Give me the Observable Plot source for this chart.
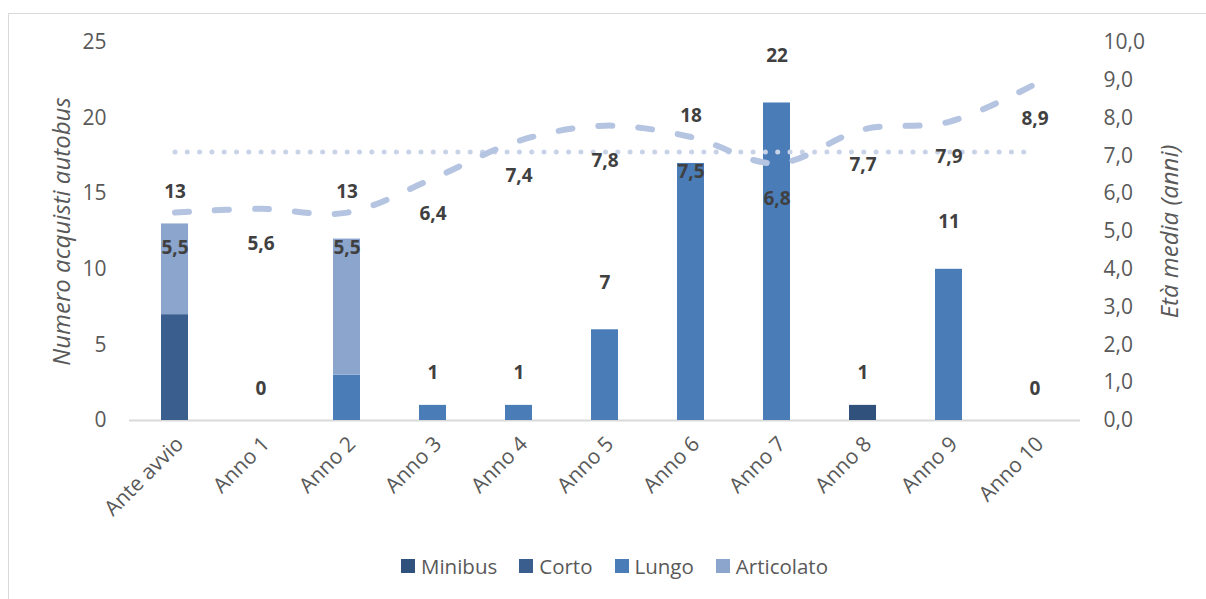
<!DOCTYPE html>
<html>
<head>
<meta charset="utf-8">
<script src="https://cdn.jsdelivr.net/npm/d3@7"></script>
<script src="https://cdn.jsdelivr.net/npm/@observablehq/plot@0.6"></script>
<style>
  body { margin: 0; background: #fff; font-family: "Open Sans", sans-serif; }
  #wrap { position: relative; width: 1206px; height: 599px; overflow: hidden; background: #fff; }
  #chart { position: absolute; left: 0; top: 0; }
  #frame { position: absolute; left: 8px; top: 13px; width: 1400px; height: 800px; border: 1px solid #d9d9d9; pointer-events: none; }
  #legend { position: absolute; top: 552px; left: 401px; display: flex; gap: 22px; align-items: center; font-size: 20.5px; color: #595959; }
  #legend .item { display: flex; align-items: center; gap: 6px; }
  #legend .sw { width: 14px; height: 14px; display: inline-block; }
</style>
</head>
<body>
<div id="wrap">
  <div id="chart"></div>
  <div id="legend"></div>
  <div id="frame"></div>
</div>
<script>
// ---- Data ----
const categorie = ["Ante avvio", "Anno 1", "Anno 2", "Anno 3", "Anno 4", "Anno 5", "Anno 6", "Anno 7", "Anno 8", "Anno 9", "Anno 10"];
const serie = ["Minibus", "Corto", "Lungo", "Articolato"];
const coloriSerie = ["#30517C", "#3A5F8E", "#4A7DB8", "#8BA5CD"];
const minibus    = [0, 0, 0, 0, 0, 0, 0, 0, 1, 0, 0];
const corto      = [7, 0, 0, 0, 0, 0, 0, 0, 0, 0, 0];
const lungo      = [0, 0, 3, 1, 1, 6, 17, 21, 0, 10, 0];
const articolato = [6, 0, 9, 0, 0, 0, 0, 0, 0, 0, 0];
const etichetteTotale = [13, 0, 13, 1, 1, 7, 18, 22, 1, 11, 0];
const etaMedia = [5.5, 5.6, 5.5, 6.4, 7.4, 7.8, 7.5, 6.8, 7.7, 7.9, 8.9];
const etaMediaComplessiva = 7.1;
const ticksSinistra = [0, 5, 10, 15, 20, 25];
const ticksDestra = [0, 1, 2, 3, 4, 5, 6, 7, 8, 9, 10];
const titoloSinistra = "Numero acquisti autobus";
const titoloDestra = "Età media (anni)";

// scale factor between right axis (0-10) and left axis (0-25)
const K = 25 / 10;

const valoriSerie = [minibus, corto, lungo, articolato];
const barre = [];
serie.forEach((s, i) => categorie.forEach((c, j) => barre.push({cat: c, serie: s, v: valoriSerie[i][j]})));
const totali = categorie.map((c, j) => ({cat: c, v: etichetteTotale[j]}));
const eta = categorie.map((c, j) => ({cat: c, v: etaMedia[j]}));
const media = categorie.map(c => ({cat: c, v: etaMediaComplessiva}));
const fmt1 = d => d.toFixed(1).replace(".", ",");

const chart = Plot.plot({
  width: 1206,
  height: 540,
  marginLeft: 129,
  marginRight: 126,
  marginTop: 42,
  marginBottom: 120,
  style: { fontFamily: "Open Sans, sans-serif", fontSize: "21px", color: "#595959", background: "transparent" },
  x: { type: "band", domain: categorie, paddingInner: 0.69, paddingOuter: 0.345, label: null },
  y: { domain: [0, 25], label: null },
  color: { domain: serie, range: coloriSerie },
  marks: [
    Plot.ruleY([0], { stroke: "#d9d9d9", strokeWidth: 2 }),
    Plot.barY(barre, Plot.stackY({ x: "cat", y: "v", fill: "serie", order: serie })),
    Plot.line(media, { x: "cat", y: d => d.v * K, stroke: "#C9D3E8", strokeWidth: 5, strokeDasharray: "0,12.3", strokeLinecap: "round" }),
    Plot.line(eta, { x: "cat", y: d => d.v * K, curve: "catmull-rom", stroke: "#B4C4E1", strokeWidth: 6, strokeDasharray: "14,26", strokeLinecap: "round" }),
    Plot.text(totali, { x: "cat", y: "v", text: d => String(d.v), dy: -32, fill: "#404040", fontWeight: "bold", fontSize: 19 }),
    Plot.text(eta, { x: "cat", y: d => d.v * K, text: d => fmt1(d.v), dy: 35, fill: "#404040", fontWeight: "bold", fontSize: 19 }),
    Plot.axisY(ticksSinistra, { anchor: "left", tickSize: 0, tickPadding: 23, label: null, fontSize: 21 }),
    Plot.axisY(ticksDestra.map(t => t * K), { anchor: "right", tickSize: 0, tickPadding: 23, label: null, tickFormat: d => fmt1(d / K), fontSize: 21 }),
    Plot.axisX({ tickSize: 0, tickRotate: -45, tickPadding: 20, dx: 5, label: null, fontSize: 21 }),
    Plot.text([titoloSinistra], { frameAnchor: "left", textAnchor: "middle", dx: -67, rotate: -90, text: d => d, fontStyle: "italic", fontSize: 24, fill: "#595959" }),
    Plot.text([titoloDestra], { frameAnchor: "right", textAnchor: "middle", dx: 90, rotate: -90, text: d => d, fontStyle: "italic", fontSize: 24, fill: "#595959" })
  ]
});
document.getElementById("chart").appendChild(chart);

const legend = document.getElementById("legend");
serie.forEach((s, i) => {
  const item = document.createElement("div");
  item.className = "item";
  const sw = document.createElement("span");
  sw.className = "sw";
  sw.style.background = coloriSerie[i];
  const t = document.createElement("span");
  t.textContent = s;
  item.appendChild(sw);
  item.appendChild(t);
  legend.appendChild(item);
});
</script>
</body>
</html>
